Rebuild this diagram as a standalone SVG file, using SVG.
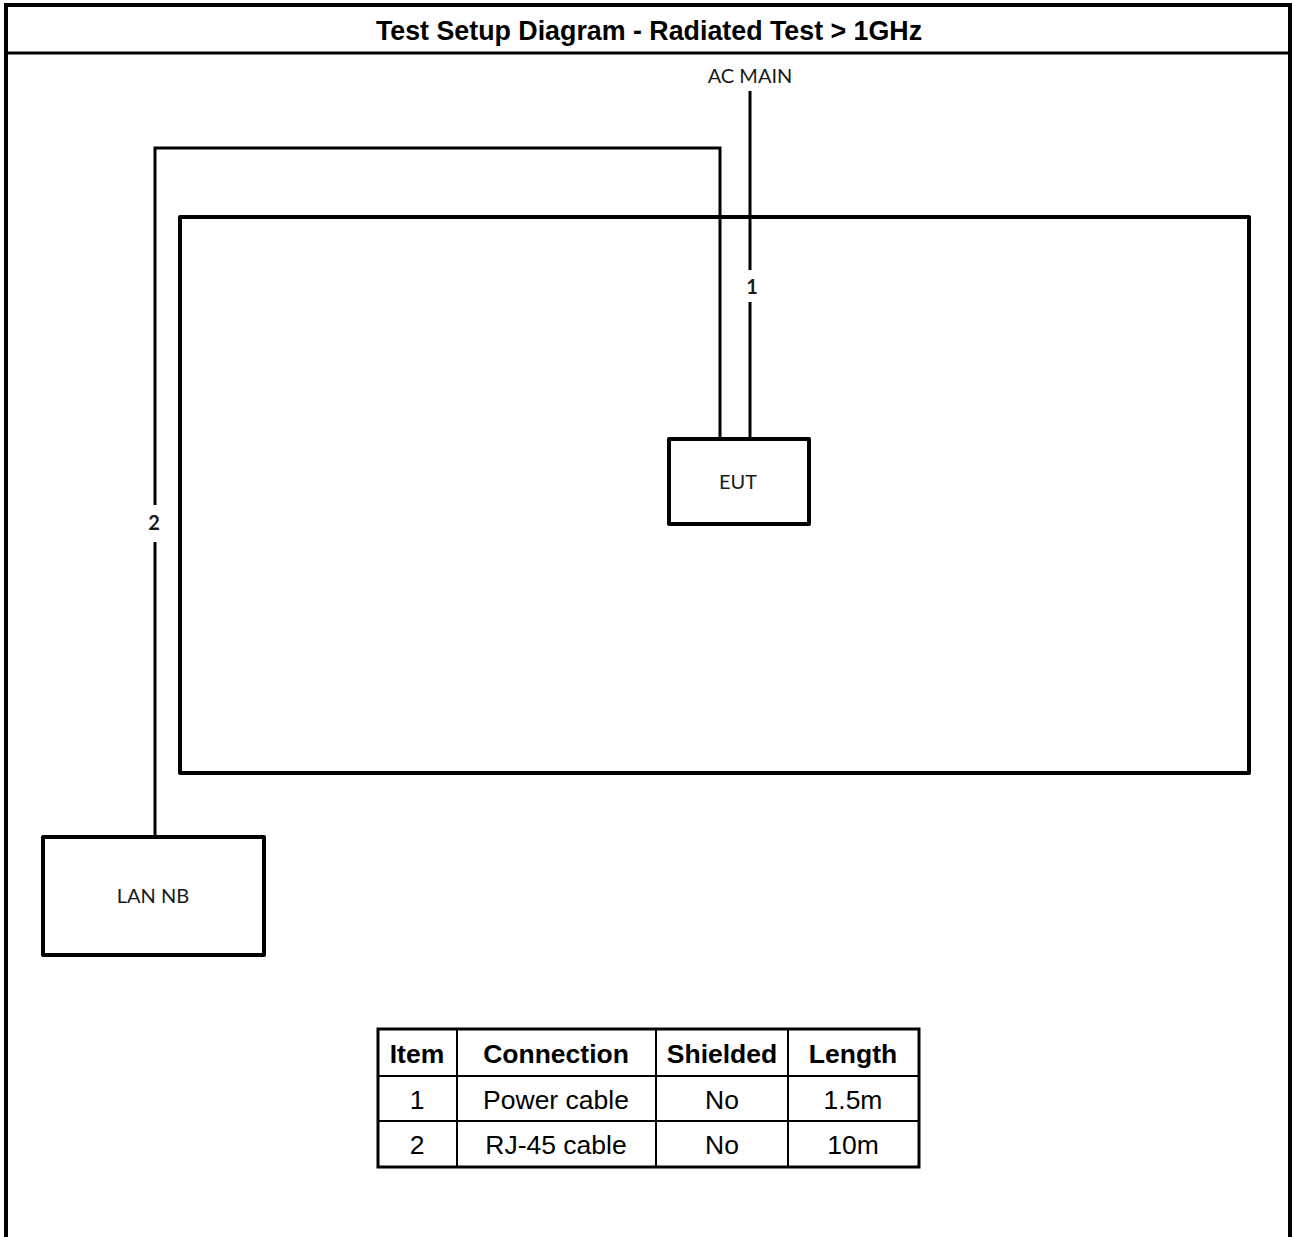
<svg xmlns="http://www.w3.org/2000/svg" width="1292" height="1237" viewBox="0 0 1292 1237">
<style>
.frame{fill:none;stroke:#000;stroke-width:4}
.box{fill:#fff;stroke:#000;stroke-width:4;stroke-linejoin:round}
.wire{fill:none;stroke:#000;stroke-width:3}
.lbl{font-family:Lato,"Liberation Sans",sans-serif;font-size:20px;fill:#1a1a1a;text-anchor:middle}
.num{font-family:Lato,"Liberation Sans",sans-serif;font-size:20px;font-weight:bold;fill:#1a1a1a;text-anchor:middle}
.title{font-family:"Liberation Sans",Arial,sans-serif;font-size:26.8px;font-weight:bold;text-anchor:middle}
.th{font-family:"Liberation Sans",Arial,sans-serif;font-size:26.5px;font-weight:bold;text-anchor:middle}
.td{font-family:"Liberation Sans",Arial,sans-serif;font-size:26.5px;text-anchor:middle}
.tl{stroke:#000;stroke-width:2}
</style>
<rect width="1292" height="1237" fill="#fff"/>
<g id="frame">
<path class="frame" d="M6 1237 V5 H1290 V1237"/>
<line x1="6" y1="53" x2="1290" y2="53" stroke="#000" stroke-width="3"/>
<text class="title" x="649" y="40">Test Setup Diagram - Radiated Test &gt; 1GHz</text>
</g>
<g id="table-area">
<rect x="180" y="217" width="1069" height="556" class="box" fill="none"/>
</g>
<g id="connectors">
<path class="wire" d="M155 837 V542 M155 505 V148 H720 V439"/>
<path class="wire" d="M750 91 V270 M750 302 V439"/>
<text class="num" x="752" y="294">1</text>
<text class="num" x="154" y="530">2</text>
<text class="lbl" x="750" y="83">AC MAIN</text>
</g>
<g id="eut">
<rect class="box" x="669" y="439" width="140" height="85"/>
<text class="lbl" x="738" y="489">EUT</text>
</g>
<g id="lan-nb">
<rect class="box" x="43" y="837" width="221" height="118"/>
<text class="lbl" x="153" y="903">LAN NB</text>
</g>
<g id="legend">
<rect x="378" y="1029" width="541" height="138" fill="#fff" stroke="#000" stroke-width="3"/>
<line class="tl" x1="378" y1="1076" x2="919" y2="1076"/>
<line class="tl" x1="378" y1="1121" x2="919" y2="1121"/>
<line class="tl" x1="457" y1="1029" x2="457" y2="1167"/>
<line class="tl" x1="656" y1="1029" x2="656" y2="1167"/>
<line class="tl" x1="788" y1="1029" x2="788" y2="1167"/>
<text class="th" x="417" y="1063">Item</text>
<text class="th" x="556" y="1063">Connection</text>
<text class="th" x="722" y="1063">Shielded</text>
<text class="th" x="853" y="1063">Length</text>
<text class="td" x="417" y="1109">1</text>
<text class="td" x="556" y="1109">Power cable</text>
<text class="td" x="722" y="1109">No</text>
<text class="td" x="853" y="1109">1.5m</text>
<text class="td" x="417" y="1154">2</text>
<text class="td" x="556" y="1154">RJ-45 cable</text>
<text class="td" x="722" y="1154">No</text>
<text class="td" x="853" y="1154">10m</text>
</g>
</svg>
